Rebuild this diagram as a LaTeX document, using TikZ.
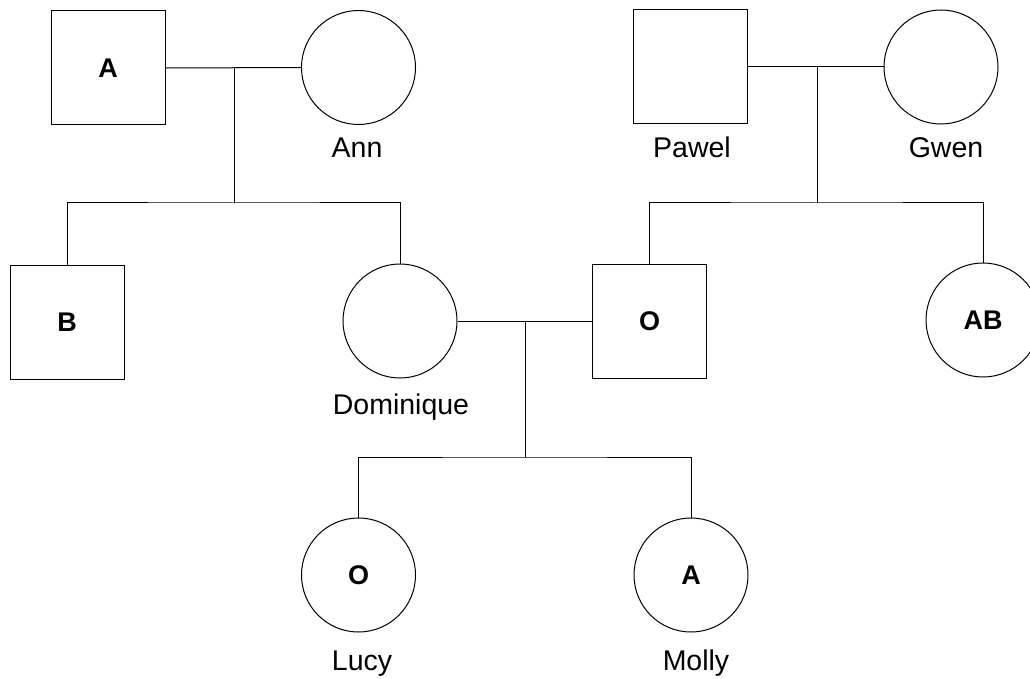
\documentclass[tikz,border=0pt]{standalone}
\usepackage{fontspec}
\setmainfont{Liberation Sans}
\begin{document}
\begin{tikzpicture}[x=1pt,y=-1pt,line width=1pt,
  male/.style={draw,rectangle,minimum width=114pt,minimum height=114pt,inner sep=0pt,font=\fontsize{27}{32}\selectfont\bfseries},
  female/.style={draw,circle,minimum size=114pt,inner sep=0pt,font=\fontsize{27}{32}\selectfont\bfseries},
  lbl/.style={font=\fontsize{28.5}{34}\selectfont,inner sep=0pt,anchor=base}]
\useasboundingbox (0,0) rectangle (1030,679);
% generation 1
\node[male] (A) at (108,68) {A};
\node[female] (Ann) at (358.5,67.5) {};
\node[lbl] (AnnL) at (357,158) {Ann};
\node[male] (Pawel) at (690,67) {};
\node[lbl] (PawelL) at (692,158) {Pawel};
\node[female] (Gwen) at (941,67) {};
\node[lbl] (GwenL) at (946,158) {Gwen};
% generation 2
\node[male] (B) at (67,322) {B};
\node[female] (Dom) at (400,321) {};
\node[lbl] (DomL) at (401,414) {Dominique};
\node[male] (O) at (649.5,321) {O};
\node[female] (AB) at (983,320) {AB};
% generation 3
\node[female] (Lucy) at (358.5,575) {O};
\node[lbl] (LucyL) at (362,670) {Lucy};
\node[female] (Molly) at (691,575) {A};
\node[lbl] (MollyL) at (696,670) {Molly};
% couples and offspring
\coordinate (m1) at (234,68);
\coordinate (s1) at (234,203);
\draw (A.east) -- (Ann.west);
\draw (m1) -- (s1);
\draw (B.north) |- (s1) -| (Dom.north);
\coordinate (m2) at (817,67);
\coordinate (s2) at (817,203);
\draw (Pawel.east) -- (Gwen.west);
\draw (m2) -- (s2);
\draw (O.north) |- (s2) -| (AB.north);
\coordinate (m3) at (525,321);
\coordinate (s3) at (525,457);
\draw (Dom.east) -- (O.west);
\draw (m3) -- (s3);
\draw (Lucy.north) |- (s3) -| (Molly.north);
\end{tikzpicture}
\end{document}
